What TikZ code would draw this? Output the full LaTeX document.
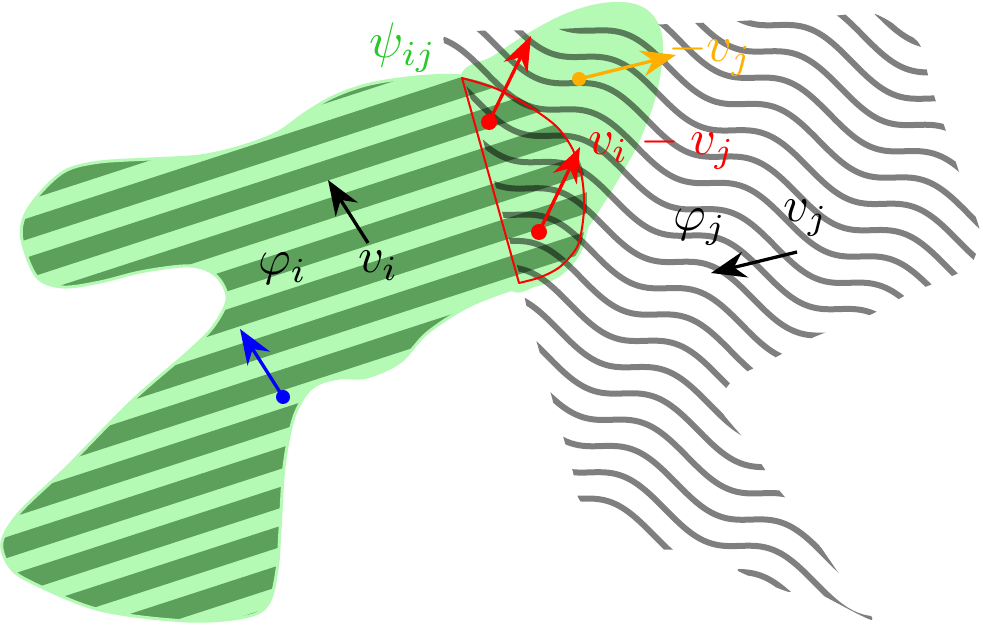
\documentclass[tikz,border=0pt]{standalone}
\usepackage{amsmath}
\usepackage{xcolor}
\usepackage{tikz}
\usetikzlibrary{arrows.meta}

\definecolor{lightgr}{RGB}{180,250,180}
\definecolor{darkgr}{RGB}{92,160,92}
\definecolor{psigr}{RGB}{40,200,40}
\definecolor{vorange}{RGB}{255,175,0}

\newcommand{\phishape}{plot[smooth cycle,tension=0.55] coordinates {
  (462,76) (500,87) (543,111) (574,146) (587,180) (588,213) (581,249) (563,272)
  (540,284) (510,290) (467,307) (427,333) (400,362) (367,377) (340,378) (320,383)
  (306,394) (293,420) (284,467) (280,530) (277,570) (268,604) (245,617) (187,621)
  (100,610) (33,583) (10,567) (2,542) (20,512) (67,467) (133,400) (187,353)
  (213,327) (227,300) (220,280) (205,269) (183,266) (140,272) (100,282) (63,287)
  (37,277) (22,240) (25,215) (43,190) (67,170) (100,162) (150,159) (200,156)
  (240,147) (277,133) (307,112) (335,96) (370,84) (417,77)}}
\newcommand{\wavezone}{plot[smooth cycle,tension=0.4] coordinates {
  (445,35) (540,30) (620,26) (720,22) (830,16) (875,14) (918,42) (928,75)
  (937,105) (948,137) (960,175) (980,232) (970,266) (940,281) (908,294) (872,314)
  (812,338) (767,362) (735,378) (719,400) (724,415) (745,440) (760,462) (779,490)
  (800,515) (818,543) (842,578) (872,620) (800,584) (789,592) (740,572) (736,566)
  (690,550) (652,547) (582,503) (573,472) (565,443) (555,409) (543,364) (527,308)
  (521,280) (508,235) (494,180) (480,130) (466,85)}}

\begin{document}
\begin{tikzpicture}[x=0.2pt,y=-0.2pt,
  lbl/.style={inner sep=0pt,anchor=base west},
  vec/.style={line width=0.66pt,-{Stealth[length=7pt]}},
  dot/.style={circle,inner sep=0pt,minimum size=3pt}]
\useasboundingbox (0,0) rectangle (983,634);

% overlap psi_ij
\fill[lightgr] plot[smooth cycle,tension=0.6] coordinates {(460,77) (493,56) (530,32)
  (567,13) (603,3) (635,4) (655,18) (663,45) (657,92) (640,140) (617,182) (590,225)
  (565,260) (540,283) (510,290) (480,240) (465,150)};

% striped body phi_i
\fill[lightgr] \phishape;
\begin{scope}
  \clip \phishape;
  \foreach \k in {-4,...,14}
    \draw[darkgr,line width=4pt] (-50,{254+39*\k}) -- (700,{10+39*\k});
\end{scope}
\draw[lightgr,line width=0.6pt] \phishape;

% wavy body phi_j
\begin{scope}
  \clip \wavezone;
  \foreach \k in {0,...,20}
    \draw[black,opacity=0.5,line width=1.2pt] plot[domain=430:990,samples=140,smooth]
      (\x,{215-31.7*\k+0.49*\x+12.5*sin(2.4*(\x-654-11*\k))});
\end{scope}

% sector
\draw[red,line width=0.4pt,line join=round] plot[smooth] coordinates {(462,78) (497,89)
  (530,107) (557,127) (573,150) (582,178) (584,210) (578,245) (561,266) (541,277)
  (519,283)} -- cycle;

% velocities
\coordinate (ra) at (489,122);
\coordinate (rat) at (531,36);
\coordinate (rb) at (539,232);
\coordinate (rbt) at (580,147);
\coordinate (oa) at (579,79);
\coordinate (oat) at (676,55);
\coordinate (ba) at (283,397);
\coordinate (bat) at (240,329);
\coordinate (via) at (368,243);
\coordinate (vit) at (328,180);
\coordinate (vja) at (797,252);
\coordinate (vjt) at (711,273);
\draw[vec,red] (ra) -- (rat);
\draw[vec,red] (rb) -- (rbt);
\draw[vec,vorange] (oa) -- (oat);
\draw[vec,blue] (ba) -- (bat);
\draw[vec] (via) -- (vit);
\draw[vec] (vja) -- (vjt);
\node[dot,fill=red,minimum size=3.2pt] (radot) at (ra) {};
\node[dot,fill=red,minimum size=3.2pt] (rbdot) at (rb) {};
\node[dot,fill=vorange,minimum size=2.8pt] (oadot) at (oa) {};
\node[dot,fill=blue,minimum size=2.8pt] (badot) at (ba) {};

% labels
\node[lbl,text=psigr] (psilbl) at (368,58) {$\psi_{ij}$};
\node[lbl] (phiilbl) at (257,275) {$\varphi_i$};
\node[lbl] (vilbl) at (357,273) {$v_i$};
\node[lbl] (phijlbl) at (672,231) {$\varphi_j$};
\node[lbl] (vjlbl) at (782,222) {$v_j$};
\node[lbl,text=red] (difflbl) at (587,155) {$v_i - v_j$};
\node[lbl,text=vorange] (mvjlbl) at (667,62) {$-v_j$};
\end{tikzpicture}
\end{document}
